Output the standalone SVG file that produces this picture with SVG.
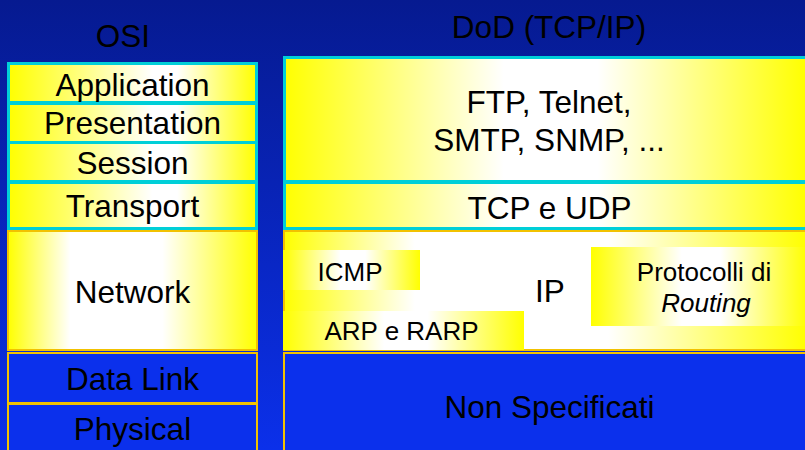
<svg xmlns="http://www.w3.org/2000/svg" width="805" height="450" viewBox="0 0 805 450">
<defs>
<linearGradient id="bg" x1="0" y1="0" x2="0" y2="1">
<stop offset="0" stop-color="#061a90"/>
<stop offset="1" stop-color="#0b30ea"/>
</linearGradient>
<linearGradient id="yA" x1="0" y1="0" x2="1" y2="0">
<stop offset="0" stop-color="#ffff00"/>
<stop offset="0.58" stop-color="#ffffff"/>
<stop offset="0.68" stop-color="#ffffff"/>
<stop offset="1" stop-color="#ffff00"/>
</linearGradient>
<linearGradient id="yB" x1="0" y1="0" x2="1" y2="0">
<stop offset="0" stop-color="#ffff00"/>
<stop offset="0.42" stop-color="#ffffff"/>
<stop offset="0.6" stop-color="#ffffff"/>
<stop offset="1" stop-color="#ffff00"/>
</linearGradient>
<linearGradient id="yC" x1="0" y1="0" x2="1" y2="0">
<stop offset="0" stop-color="#ffff00"/>
<stop offset="0.25" stop-color="#ffffff"/>
<stop offset="0.62" stop-color="#ffffff"/>
<stop offset="1" stop-color="#ffff00"/>
</linearGradient>
<style>
text{font-family:"Liberation Sans",Arial,sans-serif;fill:#000;text-anchor:middle}
.big{font-size:31.5px}
.sm{font-size:26px}
.cy{stroke:#00cfd8;stroke-width:3}
.gd{stroke:#f2c200;stroke-width:2}
.bl{fill:#0b30ec}
</style>
</defs>
<rect x="0" y="0" width="805" height="450" fill="url(#bg)"/>
<g id="titles">
<text class="big" x="123" y="47">OSI</text>
<text class="big" x="549" y="38">DoD (TCP/IP)</text>
</g>
<g id="osi-application"><rect class="cy" x="8.5" y="63.5" width="248" height="39" fill="url(#yA)"/><text class="big" x="132.5" y="96">Application</text></g>
<g id="osi-presentation"><rect class="cy" x="8.5" y="103.5" width="248" height="39" fill="url(#yA)"/><text class="big" x="132.5" y="134">Presentation</text></g>
<g id="osi-session"><rect class="cy" x="8.5" y="142.5" width="248" height="39" fill="url(#yA)"/><text class="big" x="132.5" y="174">Session</text></g>
<g id="osi-transport"><rect class="cy" x="8.5" y="182.5" width="248" height="46" fill="url(#yA)"/><text class="big" x="132.5" y="217">Transport</text></g>
<g id="osi-network"><rect class="gd" x="8" y="231" width="249" height="119" fill="url(#yC)"/><text class="big" x="132.5" y="303">Network</text></g>
<g id="osi-datalink"><rect class="gd bl" x="8" y="353" width="249" height="50"/><text class="big" x="132.5" y="390">Data Link</text></g>
<g id="osi-physical"><rect class="gd bl" x="8" y="404" width="249" height="50"/><text class="big" x="132.5" y="440">Physical</text></g>
<g id="dod-application"><rect class="cy" x="284.5" y="57.5" width="522" height="124" fill="url(#yB)"/><text class="big" x="549" y="113">FTP, Telnet,</text><text class="big" x="549" y="151">SMTP, SNMP, ...</text></g>
<g id="dod-transport"><rect class="cy" x="284.5" y="182.5" width="522" height="46" fill="url(#yB)"/><text class="big" x="549.5" y="219">TCP e UDP</text></g>
<g id="dod-ip"><rect class="gd" x="284" y="231" width="523" height="119" fill="url(#yC)"/><text class="big" x="550" y="302">IP</text></g>
<g id="dod-icmp"><rect x="283" y="250" width="137" height="40" fill="url(#yB)"/><text class="sm" x="350" y="281">ICMP</text></g>
<g id="dod-arp"><rect x="283" y="311" width="241" height="39" fill="url(#yB)"/><text class="sm" x="401.5" y="340">ARP e RARP</text></g>
<g id="dod-routing"><rect x="591" y="247" width="216" height="79" fill="url(#yB)"/><text class="sm" x="704" y="281">Protocolli di</text><text class="sm" x="706" y="312" font-style="italic">Routing</text></g>
<g id="dod-nonspec"><rect class="gd bl" x="284" y="353" width="523" height="101"/><text class="big" x="549.5" y="418">Non Specificati</text></g>
<g id="connectors"/>
</svg>
